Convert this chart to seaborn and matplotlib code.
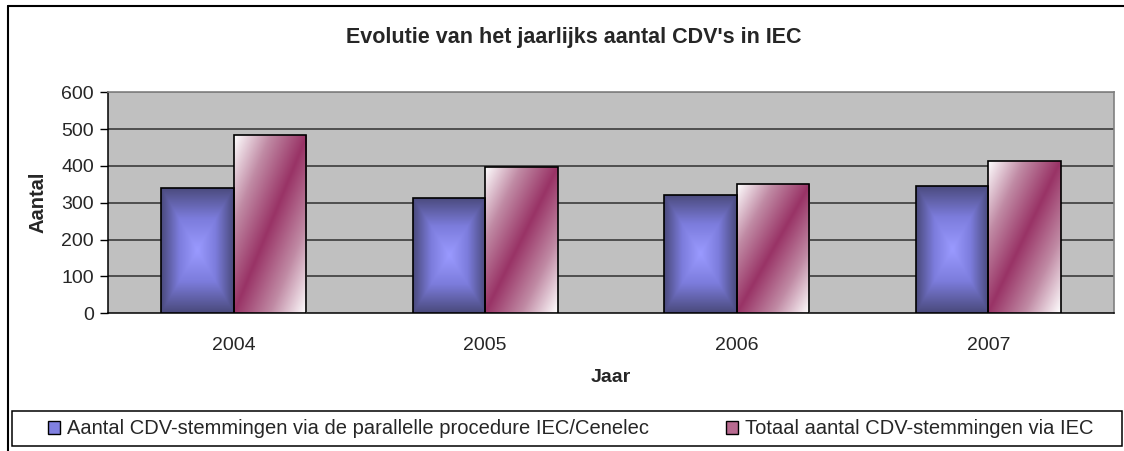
import numpy as np
import pandas as pd
import seaborn as sns
import matplotlib.pyplot as plt
from matplotlib.colors import LinearSegmentedColormap
from matplotlib.patches import Rectangle
from matplotlib.lines import Line2D

# data
jaren = ["2004", "2005", "2006", "2007"]
parallel = [340, 313, 321, 346]
totaal = [483, 397, 350, 414]
reeksen = ["Aantal CDV-stemmingen via de parallelle procedure IEC/Cenelec",
           "Totaal aantal CDV-stemmingen via IEC"]

df = pd.DataFrame({
    "Jaar": jaren * 2,
    "Aantal": parallel + totaal,
    "reeks": [reeksen[0]] * 4 + [reeksen[1]] * 4,
})

sns.set_style("white")
plt.rcParams["font.family"] = ["Liberation Sans", "DejaVu Sans"]

fig = plt.figure(figsize=(11.24, 4.51), dpi=100)
ax = fig.add_axes([108 / 1124, 1 - 313.3 / 451, (1114 - 108) / 1124, (313.3 - 92.3) / 451])
ax.set_facecolor("#C0C0C0")

sns.barplot(data=df, x="Jaar", y="Aantal", hue="reeks", order=jaren, hue_order=reeksen,
            palette=["#7575C8", "#B86A90"], width=0.578, gap=0, edgecolor="black",
            linewidth=1.2, saturation=1, legend=False, ax=ax, zorder=3)

# gradients like the old Excel fill effects
blauw = LinearSegmentedColormap.from_list("blauw", ["#9A9AFF", "#7C7CDC", "#4A4A7C"])
rood = LinearSegmentedColormap.from_list("rood", ["#FFFFFF", "#C08AA4", "#993366", "#C08AA4", "#FFFFFF"])
n = 200
u, v = np.meshgrid(np.linspace(0, 1, n), np.linspace(0, 1, n))
box = np.maximum(np.abs(u - 0.5) * 2, np.abs(v - 0.5) * 2)
diag = (u + (1 - v)) / 2  # white top-left and bottom-right

bars = [p for p in ax.patches if isinstance(p, Rectangle)]
for i, p in enumerate(bars):
    x0, y0 = p.get_x(), p.get_y()
    w, h = p.get_width(), p.get_height()
    if i < 4:
        img, cmap = box, blauw
    else:
        img, cmap = diag, rood
    im = ax.imshow(img, cmap=cmap, extent=[x0, x0 + w, y0, y0 + h], origin="lower",
                   aspect="auto", zorder=3.5, interpolation="bilinear")
    im.set_clip_path(p)
    p.set_facecolor("none")
    p.set_zorder(4)

ax.set_xlim(-0.5, 3.5)
ax.set_ylim(0, 600)
ax.set_yticks(range(0, 601, 100))
for yy in range(100, 601, 100):
    ax.axhline(yy, color="#303030" if yy < 600 else "#808080", lw=1.1, zorder=1)

ax.set_xticks(range(4))
ax.set_xticks(np.arange(-0.5, 3.6, 1), minor=True)
ax.tick_params(axis="x", which="major", length=0, labelsize=14, pad=17)
ax.tick_params(axis="x", which="minor", length=6, width=1, color="black", direction="out")
ax.tick_params(axis="y", length=6, width=1, color="black", labelsize=14, pad=4, left=True)

for s in ["left", "bottom"]:
    ax.spines[s].set_color("black")
    ax.spines[s].set_linewidth(1.1)
for s in ["top", "right"]:
    ax.spines[s].set_color("#808080")
    ax.spines[s].set_linewidth(1.2)

ax.set_xlabel("Jaar", fontsize=14, fontweight="bold", labelpad=11)
ax.set_ylabel("Aantal", fontsize=14.5, fontweight="bold", labelpad=10)
fig.text(574 / 1124, 1 - 37 / 451, "Evolutie van het jaarlijks aantal CDV's in IEC",
         ha="center", va="center", fontsize=15.5, fontweight="bold")

# legend, box drawn separately so it can span the whole width
handles = [Rectangle((0, 0), 1, 1, facecolor="#8080E0", edgecolor="black", lw=1),
           Rectangle((0, 0), 1, 1, facecolor="#B86A90", edgecolor="black", lw=1)]
leg = fig.legend(handles, reeksen, ncol=2, loc="center", fontsize=14.5,
                 bbox_to_anchor=(571 / 1124, 1 - 429 / 451), frameon=False,
                 handlelength=0.6, handleheight=0.6, handletextpad=0.35,
                 columnspacing=3.8)
fig.add_artist(Rectangle((12 / 1124, 1 - 446 / 451), 1110 / 1124, 35 / 451,
                         transform=fig.transFigure, facecolor="none", edgecolor="black",
                         lw=1.1))

# outer chart border
fig.add_artist(Line2D([7.5 / 1124, 7.5 / 1124], [0, 1 - 6 / 451], color="black", lw=1.5,
                      transform=fig.transFigure))
fig.add_artist(Line2D([7.5 / 1124, 1], [1 - 6 / 451, 1 - 6 / 451], color="black", lw=1.5,
                      transform=fig.transFigure))

fig.savefig("out.png", dpi=100)
